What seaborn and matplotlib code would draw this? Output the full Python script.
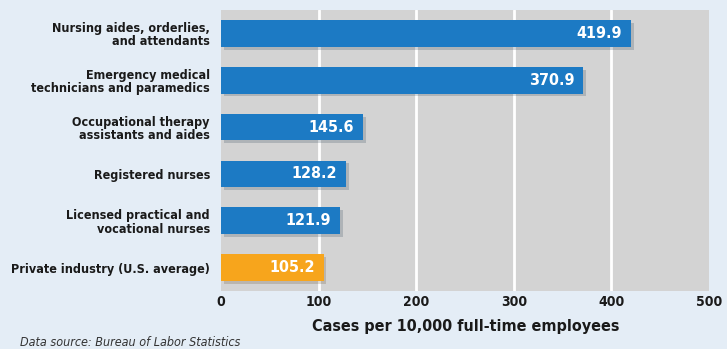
import matplotlib
matplotlib.use("Agg")
import matplotlib.pyplot as plt
import seaborn as sns
import pandas as pd
import matplotlib.patheffects as pe

categories = [
    "Nursing aides, orderlies,\nand attendants",
    "Emergency medical\ntechnicians and paramedics",
    "Occupational therapy\nassistants and aides",
    "Registered nurses",
    "Licensed practical and\nvocational nurses",
    "Private industry (U.S. average)",
]
values = [419.9, 370.9, 145.6, 128.2, 121.9, 105.2]
value_labels = ["419.9", "370.9", "145.6", "128.2", "121.9", "105.2"]
bar_colors = ["#1c7ac4", "#1c7ac4", "#1c7ac4", "#1c7ac4", "#1c7ac4", "#f7a51c"]
x_ticks = [0, 100, 200, 300, 400, 500]

df = pd.DataFrame({"cat": categories, "val": values})

sns.set_theme(style="white")
plt.rcParams["font.family"] = ["DejaVu Sans"]
plt.rcParams["font.stretch"] = "condensed"

bg = "#e4edf6"
fig = plt.figure(figsize=(7.27, 3.49), dpi=100, facecolor=bg)
ax = fig.add_axes([221/727, 1 - 291/349, (709-221)/727, (291-10)/349])
ax.set_facecolor("#d3d3d3")

sns.barplot(data=df, y="cat", x="val", hue="cat", palette=bar_colors,
            legend=False, width=0.57, ax=ax, saturation=1, zorder=3, linewidth=0)
for p in ax.patches:
    p.set_path_effects([pe.SimplePatchShadow(offset=(2, -2), alpha=0.18), pe.Normal()])

ax.set_xlim(0, 496)
ax.set_xticks(x_ticks)
ax.set_xticklabels([str(t) for t in x_ticks], fontsize=10, fontweight="bold", color="#1a1a1a")
for t in x_ticks[1:-1]:
    ax.axvline(t, color="white", lw=2, zorder=1)
ax.grid(False)
for s in ax.spines.values():
    s.set_visible(False)
ax.tick_params(axis="x", length=0, pad=3)
ax.tick_params(axis="y", length=0, pad=8)
ax.set_yticks(range(len(categories)))
ax.set_yticklabels(categories, fontsize=9, fontweight="bold", color="#1a1a1a",
                   linespacing=1.05)
ax.set_ylabel("")
ax.set_xlabel("Cases per 10,000 full-time employees", fontsize=11.5,
              fontweight="bold", color="#1a1a1a")
ax.xaxis.set_label_coords((466 - 221) / (709 - 221), -0.128)
ax.xaxis.label.set_va("center")

for i, (v, lab) in enumerate(zip(values, value_labels)):
    ax.text(v - 9, i, lab, ha="right", va="center", color="white",
            fontsize=11.5, fontweight="bold", zorder=5)

fig.text(20/727, 1 - 342/349, "Data source: Bureau of Labor Statistics",
         fontsize=9, style="italic", color="#333333", va="center", ha="left")

fig.savefig("out.png", dpi=100, facecolor=bg)
